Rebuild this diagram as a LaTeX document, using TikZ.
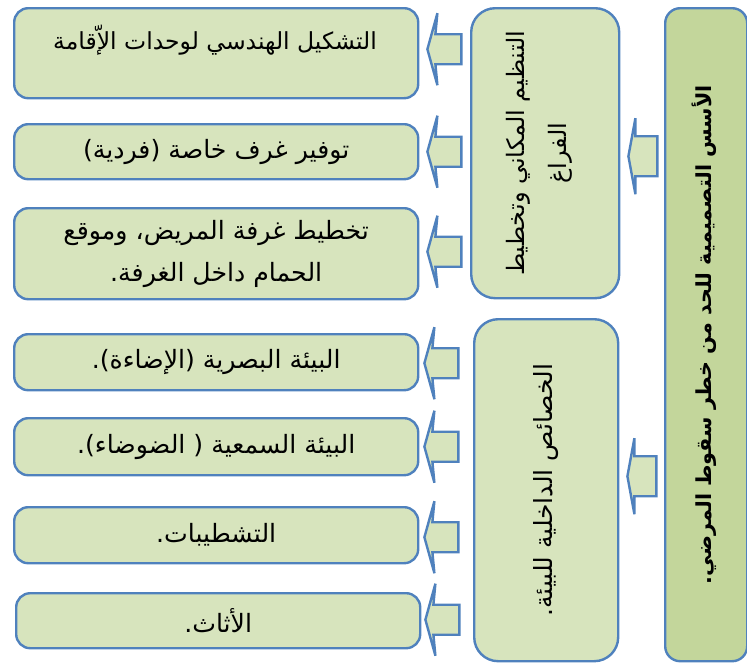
\documentclass[tikz,border=0pt]{standalone}
\usepackage{fontspec}
\newfontfamily\arabicfont[Script=Arabic]{DejaVu Sans}
\TeXXeTstate=1
\usetikzlibrary{calc}
\definecolor{edgeblue}{HTML}{4F81BD}
\definecolor{leaffill}{HTML}{D7E4BD}
\definecolor{rootfill}{HTML}{C3D69B}
\newcommand{\rtlline}[1]{\beginR #1\endR}
\begin{document}
\begin{tikzpicture}[x=1pt,y=-1pt,
  frame/.style={draw=edgeblue,line width=2.4pt,fill=leaffill,anchor=north west,inner sep=0pt},
  leaf/.style={frame,rounded corners=14pt,align=center,
    font={\arabicfont\fontsize{25.2}{42}\selectfont}},
  branch/.style={frame,rounded corners=24pt},
  rootbox/.style={frame,fill=rootfill,rounded corners=15pt},
  vtext/.style={rotate=90,align=center,inner sep=0pt,
    font={\arabicfont\fontsize{24}{42}\selectfont}},
  arrowshape/.style={draw=edgeblue,line width=2.4pt,fill=leaffill,line join=miter},
  pics/leafarrow/.style={code={
    \draw[arrowshape] (0,0) -- (10,-36) -- (8,-15) -- (34,-15) -- (34,15)
      -- (8,15) -- (10,36) -- cycle;}},
  pics/brancharrow/.style={code={
    \draw[arrowshape] (0,0) -- (7,-38) -- (7,-20) -- (29,-20) -- (29,20)
      -- (7,20) -- (7,38) -- cycle;}}
]
\useasboundingbox (0,0) rectangle (747,662);

% root column
\node[rootbox,minimum width=82,minimum height=653] (root) at (664,7) {};
\node[vtext,font={\arabicfont\bfseries\fontsize{20.7}{26}\selectfont}] (rootlabel) at ($(root.center)+(-2,0)$)
  {\rtlline{الأسس التصميمية للحد من خطر سقوط المرضي.}};

% two branches
\node[branch,minimum width=148,minimum height=290] (spatial) at (470,7) {};
\node[vtext] (spatiallabel) at ($(spatial.center)+(-6,0)$)
  {\rtlline{التنظيم المكاني وتخطيط}\\\rtlline{الفراغ}};
\node[branch,minimum width=144,minimum height=342] (interior) at (473,318) {};
\node[vtext,font={\arabicfont\fontsize{25}{45}\selectfont}] (interiorlabel) at (interior.center)
  {\rtlline{الخصائص الداخلية للبيئة.}};

% leaves of the first branch
\node[leaf,minimum width=404,minimum height=90] (geom) at (13,7) {};
\node[inner sep=0pt,font={\arabicfont\fontsize{23.5}{42}\selectfont}] (geomlabel) at (215,40)
  {\rtlline{التشكيل الهندسي لوحدات الإّقامة}};
\node[leaf,minimum width=404,minimum height=55] (rooms) at (13,123)
  {\rtlline{توفير غرف خاصة (فردية)}};
\node[leaf,minimum width=404,minimum height=91] (plan) at (13,207)
  {\rtlline{تخطيط غرفة المريض، وموقع}\\\rtlline{الحمام داخل الغرفة.}};

% leaves of the second branch
\node[leaf,minimum width=404,minimum height=56] (light) at (13,333)
  {\rtlline{البيئة البصرية (الإضاءة).}};
\node[leaf,minimum width=404,minimum height=57] (sound) at (13,417)
  {\rtlline{البيئة السمعية ( الضوضاء).}};
\node[leaf,minimum width=404,minimum height=56] (finish) at (13,506)
  {\rtlline{التشطيبات.}};
\node[leaf,minimum width=404,minimum height=55] (furniture) at (15,592)
  {\rtlline{الأثاث.}};

% block arrows
\pic at ($(spatial.east)+(8,3)$) {brancharrow};
\pic at ($(interior.east)+(8,-14)$) {brancharrow};
\pic at ($(geom.east)+(8,-4)$) {leafarrow};
\pic at ($(rooms.east)+(8,0)$) {leafarrow};
\pic at ($(plan.east)+(8,-2)$) {leafarrow};
\pic at ($(light.east)+(5,1)$) {leafarrow};
\pic at ($(sound.east)+(5,0)$) {leafarrow};
\pic at ($(finish.east)+(5,2)$) {leafarrow};
\pic at ($(furniture.east)+(4,-1)$) {leafarrow};
\end{tikzpicture}
\end{document}
